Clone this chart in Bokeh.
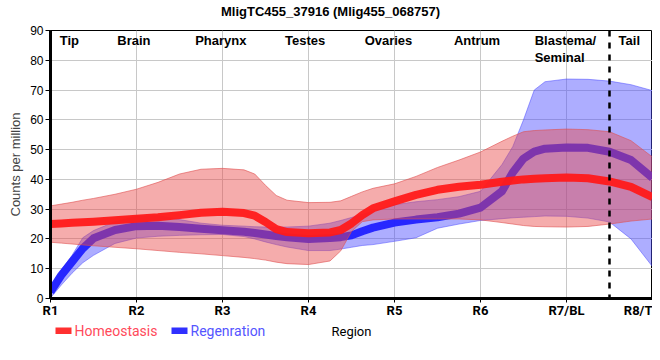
from bokeh.plotting import figure
from bokeh.layouts import column
from bokeh.models import Range1d, FixedTicker, Span
from bokeh.embed import file_html
from bokeh.resources import INLINE
from bokeh.core.properties import value

# ---------------- data ----------------
title_text = "MligTC455_37916 (Mlig455_068757)"

region_ticks = [1, 2, 3, 4, 5, 6, 7, 8]
region_tick_labels = ["R1", "R2", "R3", "R4", "R5", "R6", "R7/BL", "R8/T"]

tissue_names = ["Tip", "Brain", "Pharynx", "Testes", "Ovaries", "Antrum", "Tail"]
tissue_blastema = "Blastema/\nSeminal"

# sampled positions along the body axis (region units)
x_pos = [1.0, 1.125, 1.25, 1.375, 1.5, 1.75, 2.0, 2.25, 2.5, 2.75, 3.0, 3.25,
         3.375, 3.5, 3.625, 3.75, 4.0, 4.25, 4.375, 4.5, 4.625, 4.75, 5.0, 5.25,
         5.5, 5.75, 6.0, 6.25, 6.375, 6.5, 6.625, 6.75, 7.0, 7.25, 7.5, 7.75, 8.0]

homeo_mean = [25.0, 25.2, 25.4, 25.6, 25.8, 26.3, 26.8, 27.3, 28.0, 28.8, 29.1, 28.7,
              27.8, 25.7, 23.3, 22.3, 21.9, 22.2, 23.0, 25.2, 28.0, 30.3, 32.6, 34.8,
              36.5, 37.5, 38.2, 39.2, 39.6, 40.0, 40.2, 40.4, 40.6, 40.4, 39.3, 37.5, 34.0]
homeo_upper = [31.1, 31.7, 32.3, 33.0, 33.6, 35.0, 36.7, 39.0, 41.8, 43.4, 43.7, 43.2,
               41.8, 38.0, 34.6, 33.0, 32.2, 32.3, 32.8, 34.3, 35.8, 37.0, 38.5, 41.0,
               44.0, 46.5, 49.2, 52.8, 54.5, 56.0, 56.4, 56.6, 56.9, 56.7, 56.0, 53.0, 47.5]
homeo_lower = [18.9, 18.6, 18.3, 18.0, 17.7, 17.2, 16.7, 16.1, 15.5, 15.0, 14.4, 13.8,
               13.4, 12.9, 12.2, 11.7, 11.4, 12.6, 16.0, 22.5, 25.8, 26.4, 26.7, 26.7,
               26.7, 26.7, 26.4, 25.5, 25.0, 24.5, 24.2, 24.1, 24.0, 24.2, 25.0, 26.0, 26.7]

regen_mean = [2.2, 7.8, 12.3, 16.8, 20.2, 23.0, 24.3, 24.4, 24.0, 23.4, 22.9, 22.4,
              22.0, 21.5, 21.0, 20.6, 20.0, 20.3, 20.6, 21.2, 22.6, 23.8, 25.5, 26.5,
              27.3, 28.5, 30.5, 36.0, 42.3, 47.0, 49.3, 50.3, 50.7, 50.6, 49.3, 46.5, 40.5]
regen_upper = [3.3, 9.5, 14.5, 20.4, 22.8, 25.8, 27.6, 27.8, 26.5, 25.3, 24.6, 24.3,
               24.1, 24.0, 24.0, 24.0, 24.3, 25.3, 26.2, 27.2, 28.2, 29.3, 31.5, 32.5,
               33.2, 34.2, 36.0, 45.0, 51.0, 60.0, 70.0, 72.8, 73.7, 73.6, 73.0, 71.8, 69.8]
regen_lower = [0.2, 4.5, 8.5, 12.0, 14.5, 18.5, 20.3, 20.9, 21.2, 21.4, 21.5, 20.8,
               20.0, 19.0, 18.1, 17.3, 16.1, 16.1, 16.6, 17.2, 17.8, 18.1, 19.2, 20.4,
               23.6, 25.0, 26.2, 26.8, 27.1, 27.3, 27.5, 27.7, 27.6, 27.0, 25.7, 20.0, 10.7]

legend_names = ["Homeostasis", "Regenration"]
x_title = "Region"
y_title = "Counts per million"
tail_boundary = 7.5

W = 652
LEFT = 50  # frame left edge; strips are aligned to the main frame by the layout


def strip(h):
    fig = figure(width=W, height=h, output_backend="svg", toolbar_location=None,
                 x_range=Range1d(LEFT, W), y_range=Range1d(h, 0),
                 x_axis_type=None, y_axis_type=None,
                 min_border_left=LEFT, min_border_right=0, min_border_top=0,
                 min_border_bottom=0)
    fig.outline_line_color = None
    fig.background_fill_color = "white"
    fig.border_fill_color = "white"
    return fig


# ---------------- title strip ----------------
t = strip(20)
t.text(x=[330], y=[10.5], text=[title_text], text_font=value("Liberation Sans"),
       text_font_style="bold", text_font_size="13px", text_align="center",
       text_baseline="middle", text_color="black")

# ---------------- main plot ----------------
p = figure(width=W, height=300, output_backend="svg", toolbar_location=None,
           x_range=Range1d(1, 8), y_range=Range1d(0, 90),
           min_border_left=LEFT, min_border_right=0, min_border_top=10, min_border_bottom=20)

p.background_fill_color = "white"
p.border_fill_color = "white"
p.outline_line_color = "black"
p.outline_line_width = 1

p.xgrid.ticker = FixedTicker(ticks=region_ticks)
p.ygrid.ticker = FixedTicker(ticks=list(range(0, 91, 10)))
for g in (p.xgrid, p.ygrid):
    g.grid_line_color = "#c8c8c8"
    g.grid_line_width = 1

p.xaxis.ticker = FixedTicker(ticks=region_ticks)
p.xaxis.major_label_overrides = {t_: l for t_, l in zip(region_ticks, region_tick_labels)}
p.yaxis.ticker = FixedTicker(ticks=list(range(0, 91, 10)))
for ax in (p.xaxis, p.yaxis):
    ax.axis_line_color = "black"
    ax.axis_line_width = 3
    ax.major_tick_line_color = "black"
    ax.major_tick_line_width = 1
    ax.major_tick_out = 5
    ax.major_tick_in = 0
    ax.minor_tick_line_color = None
    ax.major_label_text_color = "black"
p.xaxis.major_tick_out = 4
p.xaxis.major_label_text_font = "Roboto"
p.xaxis.major_label_text_font_style = "bold"
p.xaxis.major_label_text_font_size = "13px"
p.xaxis.major_label_standoff = 0
p.yaxis.major_label_text_font = "Liberation Sans"
p.yaxis.major_label_text_font_size = "12px"
p.yaxis.major_label_standoff = 2
p.yaxis.axis_label = y_title
p.yaxis.axis_label_text_font = "Liberation Sans"
p.yaxis.axis_label_text_font_size = "13px"
p.yaxis.axis_label_text_font_style = "normal"
p.yaxis.axis_label_standoff = 4

red_band = "#e84848"
blue_band = "#4a4aff"

p.varea(x=x_pos, y1=regen_lower, y2=regen_upper, fill_color=blue_band, fill_alpha=0.45)
p.line(x_pos, regen_upper, line_color=blue_band, line_width=1, line_alpha=0.5)
p.line(x_pos, regen_lower, line_color=blue_band, line_width=1, line_alpha=0.5)
p.line(x_pos, regen_mean, line_color="#2020ff", line_width=8, line_alpha=0.95,
       line_join="round")

p.varea(x=x_pos, y1=homeo_lower, y2=homeo_upper, fill_color=red_band, fill_alpha=0.45)
p.line(x_pos, homeo_upper, line_color="#e05050", line_width=1, line_alpha=0.6)
p.line(x_pos, homeo_lower, line_color="#e05050", line_width=1, line_alpha=0.6)
p.line(x_pos, homeo_mean, line_color="#ff1a1a", line_width=8, line_alpha=0.95,
       line_join="round")

p.add_layout(Span(location=tail_boundary, dimension="height", line_color="black",
                  line_width=2.5, line_dash="6 6"))

tissue_x = [1.22, 1.97, 2.98, 3.96, 4.93, 5.96, 7.73]
p.text(x=tissue_x, y=[89.2] * len(tissue_x), text=tissue_names,
       text_font=value("Liberation Sans"), text_font_style="bold",
       text_font_size="13px", text_align="center", text_baseline="top",
       text_color="black")
p.text(x=[6.63], y=[89.2], text=[tissue_blastema],
       text_font=value("Liberation Sans"), text_font_style="bold",
       text_font_size="13px", text_align="left", text_baseline="top",
       text_color="black", text_line_height=1.15)

# ---------------- legend strip ----------------
lg = strip(32)
legend_colors = ["#ff3030", "#3030ff"]
legend_text_colors = ["#ff4a5a", "#5555ff"]
sw_left = [55, 171]
lg.quad(left=sw_left, right=[s + 16 for s in sw_left], top=[7, 7], bottom=[13.5, 13.5],
        fill_color=legend_colors, line_color=None)
lg.text(x=[s + 19 for s in sw_left], y=[10, 10], text=legend_names,
        text_font=value("Roboto"), text_font_size="14px", text_align="left",
        text_baseline="middle", text_color=legend_text_colors)
lg.text(x=[331], y=[11], text=[x_title], text_font=value("Roboto"),
        text_font_size="13px", text_align="left", text_baseline="middle",
        text_color="black")

layout = column(t, p, lg, spacing=0)
open("out.html", "w").write(file_html(layout, INLINE))
